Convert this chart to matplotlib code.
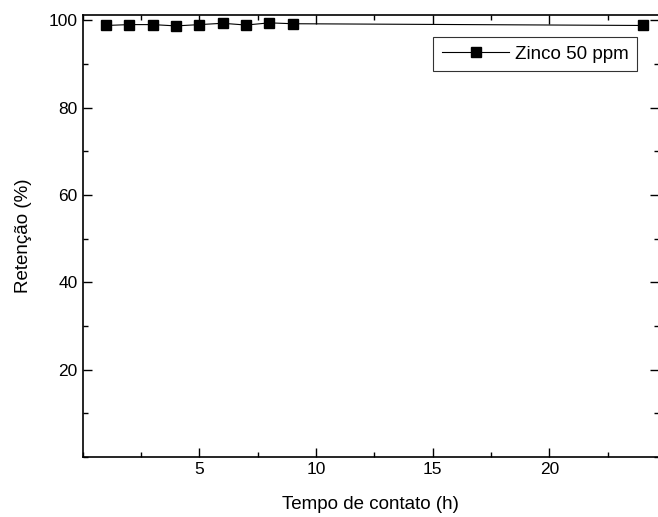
import numpy as np
import matplotlib
matplotlib.use("Agg")
import matplotlib.pyplot as plt
from matplotlib.ticker import MultipleLocator

# contact time (h) and retention (%)
tempo = [1, 2, 3, 4, 5, 6, 7, 8, 9, 24]
retencao = [98.8, 99.0, 99.0, 98.7, 99.0, 99.3, 98.9, 99.4, 99.2, 98.8]
serie = "Zinco 50 ppm"

plt.rcParams.update({
    "font.family": ["Liberation Sans", "DejaVu Sans"],
    "font.size": 12,
    "axes.linewidth": 1.2,
    "xtick.direction": "in",
    "ytick.direction": "in",
    "xtick.top": True,
    "ytick.right": True,
})

fig = plt.figure(figsize=(6.58, 5.17), dpi=100)
ax = fig.add_axes([0.1257, 0.116, 0.876, 0.855])

ax.plot(tempo, retencao, "-s", color="black", lw=0.8, ms=7,
        markerfacecolor="black", label=serie)

ax.set_xlim(0, 24.7)
ax.set_ylim(0, 101.2)
ax.xaxis.set_minor_locator(MultipleLocator(2.5))
ax.yaxis.set_minor_locator(MultipleLocator(10))
ax.set_xticks([5, 10, 15, 20])
ax.set_yticks([20, 40, 60, 80, 100])
ax.tick_params(which="major", length=6.5, width=1.0, labelsize=12.5)
ax.tick_params(which="minor", length=3.5, width=1.0)

ax.set_xlabel("Tempo de contato (h)", fontsize=13.5, labelpad=14)
ax.set_ylabel("Retenção (%)", fontsize=13.5, labelpad=12)

leg = ax.legend(loc="upper right", bbox_to_anchor=(0.962, 0.950),
                borderaxespad=0, fontsize=13.5, numpoints=1,
                handlelength=3.6, frameon=True, fancybox=False,
                borderpad=0.45, handletextpad=0.3)
leg.get_frame().set_edgecolor("black")
leg.get_frame().set_linewidth(0.8)

fig.savefig("out.png", dpi=100)
